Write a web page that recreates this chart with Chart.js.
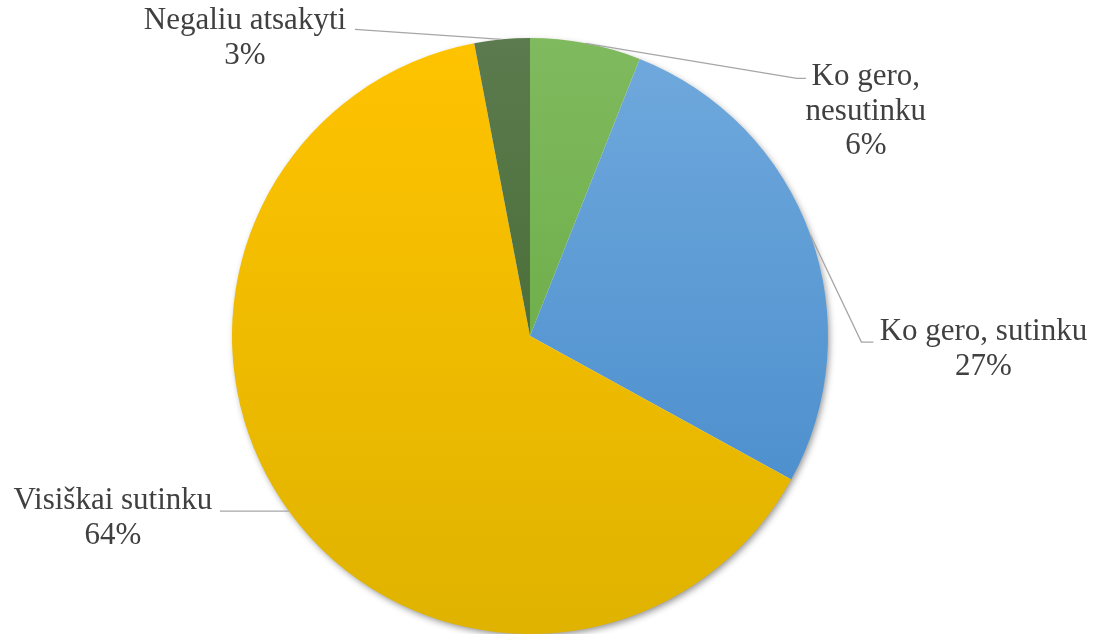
<!DOCTYPE html>
<html>
<head>
<meta charset="utf-8">
<title>Pie</title>
<script src="https://cdn.jsdelivr.net/npm/chart.js@4.4.1/dist/chart.umd.min.js"></script>
<style>
    html, body { margin: 0; padding: 0; background: #fff; }
    #wrap { width: 1102px; height: 634px; position: relative; }
</style>
</head>
<body>
<div id="wrap"><canvas id="pie"></canvas></div>
<script>
// answers, clockwise from 12 o'clock
const categories = ['Ko gero, nesutinku', 'Ko gero, sutinku', 'Visiškai sutinku', 'Negaliu atsakyti'];
const labelLines = [['Ko gero,', 'nesutinku'], ['Ko gero, sutinku'], ['Visiškai sutinku'], ['Negaliu atsakyti']];
const shares = [6, 27, 64, 3];

// top -> bottom gradient stops per slice (Office style fills)
const sliceColors = [
    ['#7FBA5E', '#62A53B'],
    ['#70A9DD', '#4288C9'],
    ['#FFC300', '#DFB300'],
    ['#5C7B4E', '#3B6326']
];

// leader line / label placement, relative to the slice edge point
const labelLayout = [
    { elbow: [211, 35], end: [9, 0], text: [69, 7] },
    { elbow: [51, 107], end: [12, 0], text: [122, -2] },
    { elbow: [-69, 0], end: [0, 0], text: [-107, -2] },
    { elbow: [-147, -10], end: [0, 0], text: [-110, 0] }
];

const LABEL_FONT = '31px "Liberation Serif", "Times New Roman", "DejaVu Serif", serif';
const LINE_H = 34.5;

function sliceFill(ctx) {
    const chart = ctx.chart;
    const area = chart.chartArea;
    const pair = sliceColors[ctx.dataIndex];
    if (!area) return pair[0];
    const g = chart.ctx.createLinearGradient(0, area.top, 0, area.bottom);
    g.addColorStop(0, pair[0]);
    g.addColorStop(1, pair[1]);
    return g;
}

const pieShadow = {
    id: 'pieShadow',
    beforeDatasetsDraw(chart) {
        const arc = chart.getDatasetMeta(0).data[0];
        if (!arc) return;
        const { x, y, outerRadius } = arc.getProps(['x', 'y', 'outerRadius'], true);
        const ctx = chart.ctx;
        ctx.save();
        ctx.shadowColor = 'rgba(0, 0, 0, 0.45)';
        ctx.shadowBlur = 7;
        ctx.shadowOffsetX = 2;
        ctx.shadowOffsetY = 3;
        ctx.fillStyle = '#fff';
        ctx.beginPath();
        ctx.arc(x, y, outerRadius - 1, 0, Math.PI * 2);
        ctx.fill();
        ctx.restore();
    }
};

const outsideLabels = {
    id: 'outsideLabels',
    afterDatasetsDraw(chart) {
        const ctx = chart.ctx;
        const meta = chart.getDatasetMeta(0);
        meta.data.forEach((arc, i) => {
            const p = arc.getProps(['x', 'y', 'startAngle', 'endAngle', 'outerRadius'], true);
            const mid = (p.startAngle + p.endAngle) / 2;
            const ex = p.x + Math.cos(mid) * p.outerRadius;
            const ey = p.y + Math.sin(mid) * p.outerRadius;
            const lay = labelLayout[i];
            const bx = ex + lay.elbow[0], by = ey + lay.elbow[1];
            const tx = bx + lay.end[0], ty = by + lay.end[1];

            ctx.save();
            ctx.strokeStyle = '#A6A6A6';
            ctx.lineWidth = 1.3;
            ctx.beginPath();
            ctx.moveTo(ex, ey);
            ctx.lineTo(bx, by);
            ctx.lineTo(tx, ty);
            ctx.stroke();

            const cx = bx + lay.text[0];
            const base = by + lay.text[1];
            ctx.fillStyle = '#404040';
            ctx.font = LABEL_FONT;
            ctx.textAlign = 'center';
            ctx.textBaseline = 'alphabetic';
            const lines = labelLines[i].concat([shares[i] + '%']);
            lines.forEach((t, k) => ctx.fillText(t, cx, base + k * LINE_H));
            ctx.restore();
        });
    }
};

function drawChart() {
    new Chart(document.getElementById('pie'), {
        type: 'pie',
        data: {
            labels: categories,
            datasets: [{
                data: shares,
                backgroundColor: sliceFill,
                borderWidth: 0,
                hoverOffset: 0
            }]
        },
        options: {
            responsive: true,
            maintainAspectRatio: false,
            animation: false,
            events: [],
            layout: { padding: { top: 38, bottom: 0, left: 232, right: 274 } },
            plugins: {
                legend: { display: false },
                tooltip: { enabled: false },
                title: { display: false }
            }
        },
        plugins: [pieShadow, outsideLabels]
    });
}

// make sure the serif face is ready before the canvas text is drawn
document.fonts.load(LABEL_FONT).then(drawChart, drawChart);
</script>
</body>
</html>
